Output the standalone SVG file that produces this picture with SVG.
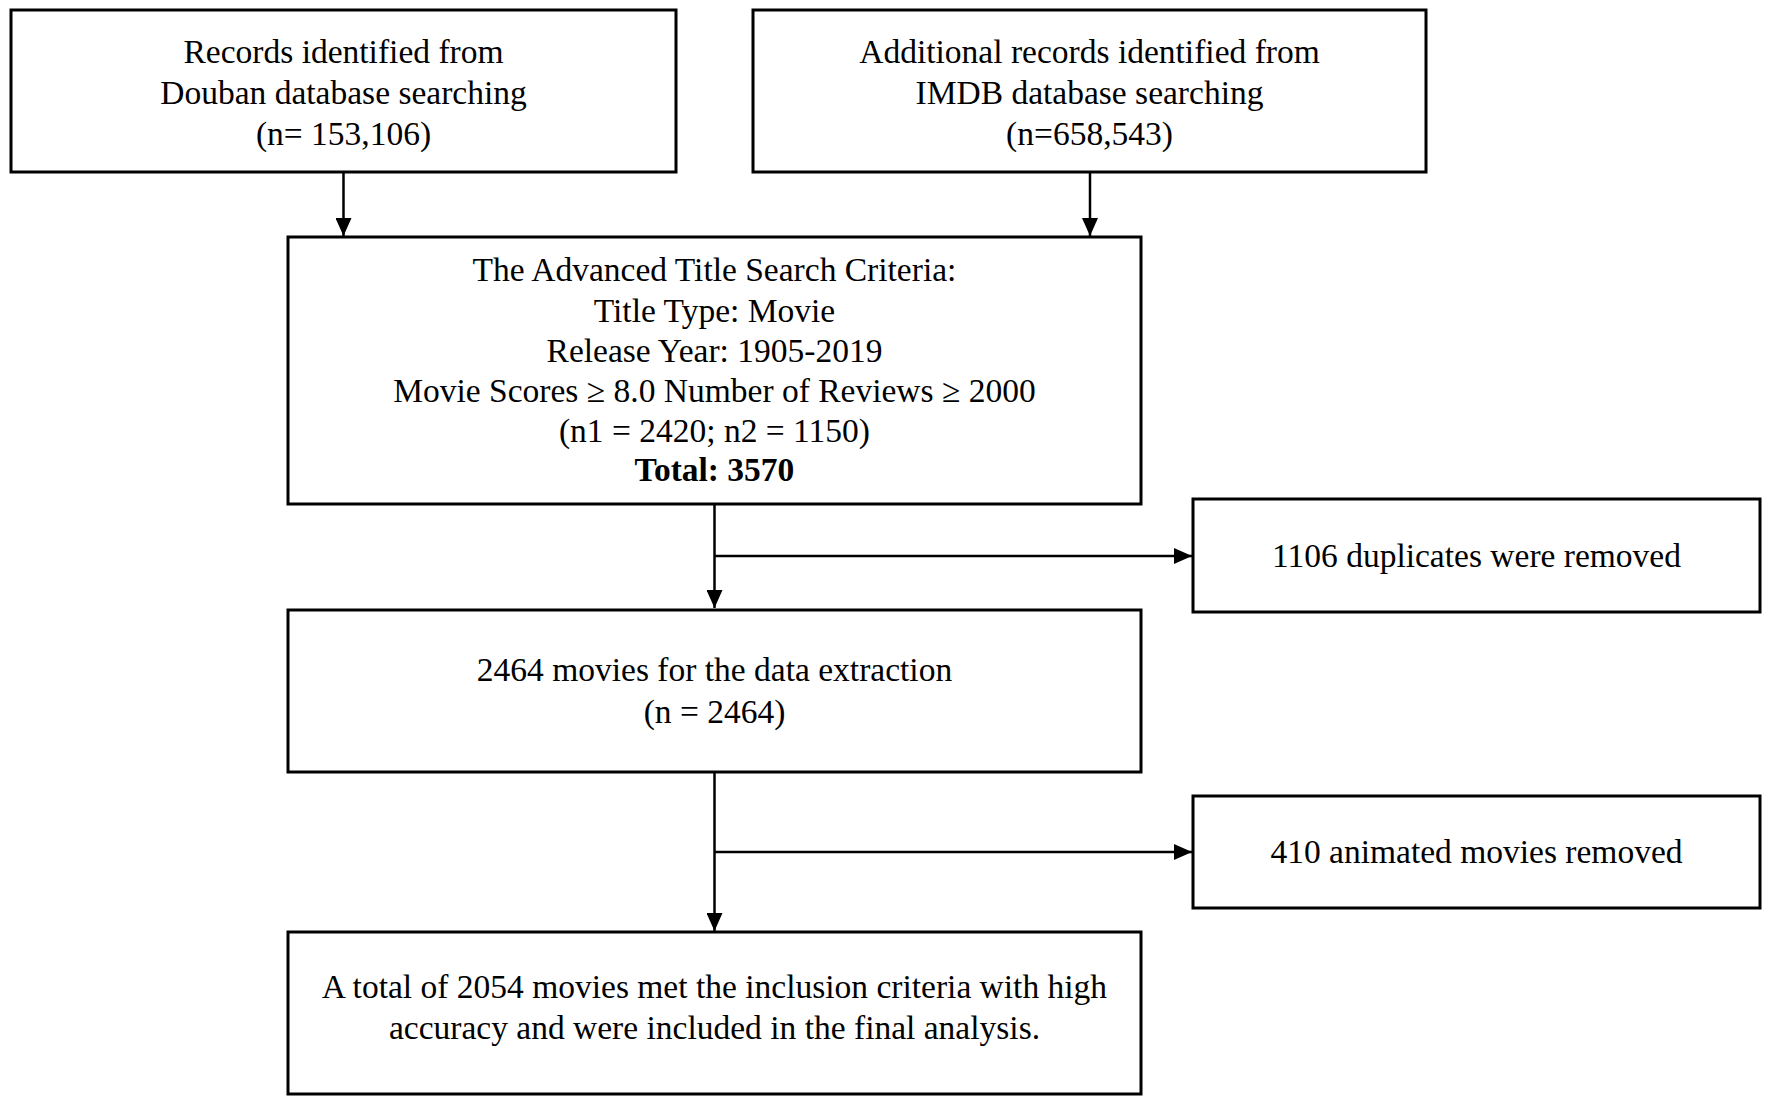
<svg xmlns="http://www.w3.org/2000/svg" width="1772" height="1112" viewBox="0 0 1772 1112">
<style>
  .box { fill: #ffffff; stroke: #000000; stroke-width: 3; }
  .t { font-family: "Liberation Serif", "Times New Roman", serif; font-size: 33.5px; fill: #000000; text-anchor: middle; }
  .b { font-weight: bold; }
  .ln { stroke: #000000; stroke-width: 2.5; fill: none; }
</style>
<defs>
  <marker id="ah" viewBox="0 0 18 16" refX="18" refY="8" markerWidth="18" markerHeight="16" markerUnits="userSpaceOnUse" orient="auto">
    <path d="M0,0 L18,8 L0,16 Z" fill="#000000"/>
  </marker>
</defs>
<rect width="1772" height="1112" fill="#ffffff"/>
<g id="connectors">
  <line class="ln" x1="343.5" y1="172" x2="343.5" y2="236" marker-end="url(#ah)"/>
  <line class="ln" x1="1090" y1="172" x2="1090" y2="236" marker-end="url(#ah)"/>
  <line class="ln" x1="714.5" y1="504" x2="714.5" y2="608" marker-end="url(#ah)"/>
  <line class="ln" x1="714.5" y1="556" x2="1192" y2="556" marker-end="url(#ah)"/>
  <line class="ln" x1="714.5" y1="772" x2="714.5" y2="931" marker-end="url(#ah)"/>
  <line class="ln" x1="714.5" y1="852" x2="1192" y2="852" marker-end="url(#ah)"/>
</g>
<g id="douban">
  <rect class="box" x="11" y="10" width="665" height="162"/>
  <text class="t" x="343.5" y="63">Records identified from</text>
  <text class="t" x="343.5" y="104">Douban database searching</text>
  <text class="t" x="343.5" y="145">(n= 153,106)</text>
</g>
<g id="imdb">
  <rect class="box" x="753" y="10" width="673" height="162"/>
  <text class="t" x="1089.5" y="63">Additional records identified from</text>
  <text class="t" x="1089.5" y="104">IMDB database searching</text>
  <text class="t" x="1089.5" y="145">(n=658,543)</text>
</g>
<g id="criteria">
  <rect class="box" x="288" y="237" width="853" height="267"/>
  <text class="t" x="714.5" y="281">The Advanced Title Search Criteria:</text>
  <text class="t" x="714.5" y="322">Title Type: Movie</text>
  <text class="t" x="714.5" y="362">Release Year: 1905-2019</text>
  <text class="t" x="714.5" y="402">Movie Scores ≥ 8.0 Number of Reviews ≥ 2000</text>
  <text class="t" x="714.5" y="442">(n1 = 2420; n2 = 1150)</text>
  <text class="t b" x="714.5" y="481">Total: 3570</text>
</g>
<g id="duplicates">
  <rect class="box" x="1193" y="499" width="567" height="113"/>
  <text class="t" x="1476.5" y="567">1106 duplicates were removed</text>
</g>
<g id="extraction">
  <rect class="box" x="288" y="610" width="853" height="162"/>
  <text class="t" x="714.5" y="681">2464 movies for the data extraction</text>
  <text class="t" x="714.5" y="723">(n = 2464)</text>
</g>
<g id="animated">
  <rect class="box" x="1193" y="796" width="567" height="112"/>
  <text class="t" x="1476.5" y="863">410 animated movies removed</text>
</g>
<g id="final">
  <rect class="box" x="288" y="932" width="853" height="162"/>
  <text class="t" x="714.5" y="998">A total of 2054 movies met the inclusion criteria with high</text>
  <text class="t" x="714.5" y="1039">accuracy and were included in the final analysis.</text>
</g>
</svg>
